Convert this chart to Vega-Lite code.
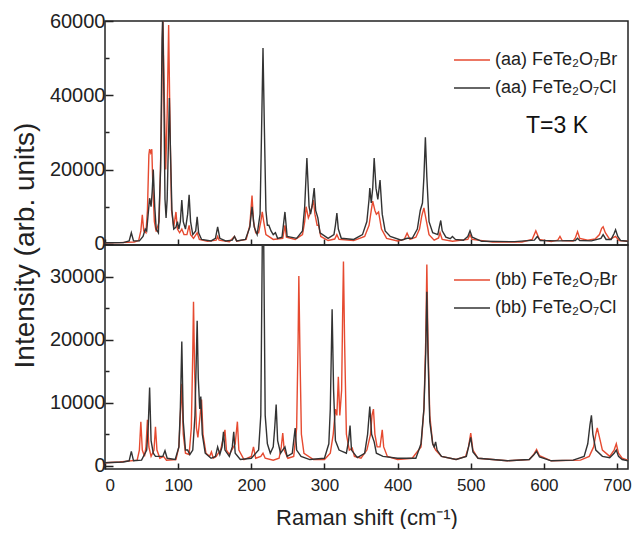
{
  "$schema": "https://vega.github.io/schema/vega-lite/v6.json",
  "padding": {"left": 10, "top": 10, "right": 0, "bottom": 0},
  "spacing": 0,
  "bounds": "flush",
  "config": {
    "font": "Liberation Sans",
    "view": {"stroke": "#222222", "strokeWidth": 1.5},
    "axis": {"grid": false, "domain": false, "tickColor": "#222222", "tickWidth": 1.5, "labelColor": "#222222", "titleColor": "#222222", "titleFontWeight": "normal", "labelFont": "Liberation Sans", "titleFont": "Liberation Sans"},
    "legend": {"labelFont": "Liberation Sans"}
  },
  "datasets": {
    "top": [
      {"s":"Br","x":0,"y":300},{"s":"Br","x":20,"y":350},{"s":"Br","x":40,"y":500},{"s":"Br","x":46,"y":900},{"s":"Br","x":49,"y":3500},{"s":"Br","x":51,"y":7800},{"s":"Br","x":53,"y":3500},{"s":"Br","x":56,"y":3000},{"s":"Br","x":58,"y":9000},{"s":"Br","x":60,"y":24000},{"s":"Br","x":61,"y":25500},{"s":"Br","x":62.5,"y":24500},{"s":"Br","x":64,"y":25500},{"s":"Br","x":65.5,"y":15000},{"s":"Br","x":67.5,"y":6000},{"s":"Br","x":70,"y":3300},{"s":"Br","x":74,"y":6000},{"s":"Br","x":77,"y":30000},{"s":"Br","x":79,"y":62000},{"s":"Br","x":81,"y":40000},{"s":"Br","x":83,"y":20000},{"s":"Br","x":85,"y":35000},{"s":"Br","x":87,"y":58900},{"s":"Br","x":89,"y":30000},{"s":"Br","x":91,"y":9000},{"s":"Br","x":94,"y":4500},{"s":"Br","x":97,"y":8600},{"s":"Br","x":99,"y":4000},{"s":"Br","x":102,"y":3000},{"s":"Br","x":105,"y":4000},{"s":"Br","x":108,"y":2500},{"s":"Br","x":112,"y":2500},{"s":"Br","x":115,"y":5000},{"s":"Br","x":117,"y":2500},{"s":"Br","x":121,"y":1500},{"s":"Br","x":126,"y":3000},{"s":"Br","x":129,"y":1200},{"s":"Br","x":140,"y":700},{"s":"Br","x":152,"y":1000},{"s":"Br","x":154,"y":2000},{"s":"Br","x":156,"y":1000},{"s":"Br","x":170,"y":600},{"s":"Br","x":177,"y":2000},{"s":"Br","x":180,"y":700},{"s":"Br","x":193,"y":1200},{"s":"Br","x":198,"y":5000},{"s":"Br","x":201,"y":13000},{"s":"Br","x":203,"y":6000},{"s":"Br","x":206,"y":3000},{"s":"Br","x":210,"y":3000},{"s":"Br","x":213,"y":6000},{"s":"Br","x":215,"y":8600},{"s":"Br","x":217,"y":6000},{"s":"Br","x":220,"y":2500},{"s":"Br","x":230,"y":1200},{"s":"Br","x":243,"y":1500},{"s":"Br","x":246,"y":5000},{"s":"Br","x":248,"y":1800},{"s":"Br","x":260,"y":1200},{"s":"Br","x":270,"y":2500},{"s":"Br","x":273,"y":6000},{"s":"Br","x":275,"y":10000},{"s":"Br","x":278,"y":7000},{"s":"Br","x":280,"y":8000},{"s":"Br","x":283,"y":10000},{"s":"Br","x":285,"y":11800},{"s":"Br","x":287,"y":8000},{"s":"Br","x":290,"y":5000},{"s":"Br","x":292,"y":5000},{"s":"Br","x":295,"y":2000},{"s":"Br","x":305,"y":900},{"s":"Br","x":314,"y":1300},{"s":"Br","x":317,"y":2500},{"s":"Br","x":320,"y":1200},{"s":"Br","x":340,"y":900},{"s":"Br","x":355,"y":2000},{"s":"Br","x":361,"y":5000},{"s":"Br","x":364,"y":9000},{"s":"Br","x":366,"y":11500},{"s":"Br","x":369,"y":9000},{"s":"Br","x":371,"y":8000},{"s":"Br","x":374,"y":8600},{"s":"Br","x":378,"y":4000},{"s":"Br","x":385,"y":1500},{"s":"Br","x":400,"y":800},{"s":"Br","x":409,"y":1200},{"s":"Br","x":413,"y":2900},{"s":"Br","x":417,"y":1200},{"s":"Br","x":425,"y":1800},{"s":"Br","x":430,"y":4000},{"s":"Br","x":433,"y":7500},{"s":"Br","x":436,"y":9700},{"s":"Br","x":439,"y":6500},{"s":"Br","x":443,"y":2500},{"s":"Br","x":450,"y":1000},{"s":"Br","x":456,"y":1600},{"s":"Br","x":458,"y":3000},{"s":"Br","x":461,"y":1200},{"s":"Br","x":475,"y":700},{"s":"Br","x":496,"y":1200},{"s":"Br","x":499,"y":2500},{"s":"Br","x":502,"y":1200},{"s":"Br","x":530,"y":500},{"s":"Br","x":570,"y":500},{"s":"Br","x":584,"y":1200},{"s":"Br","x":589,"y":3500},{"s":"Br","x":594,"y":1200},{"s":"Br","x":610,"y":600},{"s":"Br","x":619,"y":1000},{"s":"Br","x":622,"y":2000},{"s":"Br","x":625,"y":900},{"s":"Br","x":640,"y":800},{"s":"Br","x":643,"y":1600},{"s":"Br","x":646,"y":3300},{"s":"Br","x":649,"y":1500},{"s":"Br","x":660,"y":1000},{"s":"Br","x":670,"y":1300},{"s":"Br","x":676,"y":2500},{"s":"Br","x":679,"y":4200},{"s":"Br","x":681,"y":4600},{"s":"Br","x":684,"y":3000},{"s":"Br","x":690,"y":1200},{"s":"Br","x":698,"y":2000},{"s":"Br","x":703,"y":900},{"s":"Br","x":715,"y":700},
      {"s":"Cl","x":0,"y":300},{"s":"Cl","x":25,"y":350},{"s":"Cl","x":33,"y":800},{"s":"Cl","x":36,"y":3000},{"s":"Cl","x":39,"y":800},{"s":"Cl","x":47,"y":800},{"s":"Cl","x":52,"y":2000},{"s":"Cl","x":55,"y":4000},{"s":"Cl","x":57,"y":3500},{"s":"Cl","x":59,"y":8000},{"s":"Cl","x":61,"y":12300},{"s":"Cl","x":63,"y":10000},{"s":"Cl","x":64.5,"y":14000},{"s":"Cl","x":66,"y":20000},{"s":"Cl","x":68,"y":10000},{"s":"Cl","x":70,"y":4000},{"s":"Cl","x":73,"y":3000},{"s":"Cl","x":76,"y":20000},{"s":"Cl","x":78,"y":55000},{"s":"Cl","x":79,"y":62000},{"s":"Cl","x":80.5,"y":40000},{"s":"Cl","x":82,"y":12000},{"s":"Cl","x":83.5,"y":7000},{"s":"Cl","x":85,"y":12000},{"s":"Cl","x":87,"y":30000},{"s":"Cl","x":88,"y":39300},{"s":"Cl","x":89.5,"y":25000},{"s":"Cl","x":91.5,"y":9000},{"s":"Cl","x":94,"y":4000},{"s":"Cl","x":97,"y":4500},{"s":"Cl","x":99,"y":6000},{"s":"Cl","x":101,"y":4000},{"s":"Cl","x":103,"y":6000},{"s":"Cl","x":105,"y":11800},{"s":"Cl","x":107,"y":6000},{"s":"Cl","x":110,"y":4000},{"s":"Cl","x":113,"y":8000},{"s":"Cl","x":115,"y":13200},{"s":"Cl","x":117,"y":6000},{"s":"Cl","x":120,"y":2500},{"s":"Cl","x":124,"y":3500},{"s":"Cl","x":126,"y":7300},{"s":"Cl","x":128,"y":3000},{"s":"Cl","x":132,"y":1200},{"s":"Cl","x":145,"y":800},{"s":"Cl","x":151,"y":1500},{"s":"Cl","x":154,"y":4600},{"s":"Cl","x":157,"y":1500},{"s":"Cl","x":165,"y":800},{"s":"Cl","x":174,"y":1000},{"s":"Cl","x":177,"y":2000},{"s":"Cl","x":180,"y":800},{"s":"Cl","x":192,"y":1200},{"s":"Cl","x":198,"y":4500},{"s":"Cl","x":201,"y":10000},{"s":"Cl","x":204,"y":4500},{"s":"Cl","x":208,"y":2500},{"s":"Cl","x":212,"y":8000},{"s":"Cl","x":214,"y":30000},{"s":"Cl","x":216,"y":52700},{"s":"Cl","x":218,"y":30000},{"s":"Cl","x":220,"y":9000},{"s":"Cl","x":222,"y":5000},{"s":"Cl","x":224,"y":5000},{"s":"Cl","x":227,"y":3500},{"s":"Cl","x":230,"y":2500},{"s":"Cl","x":233,"y":3000},{"s":"Cl","x":236,"y":1500},{"s":"Cl","x":242,"y":1800},{"s":"Cl","x":246,"y":8600},{"s":"Cl","x":249,"y":2000},{"s":"Cl","x":262,"y":1500},{"s":"Cl","x":270,"y":3500},{"s":"Cl","x":273,"y":10000},{"s":"Cl","x":276,"y":23100},{"s":"Cl","x":279,"y":10000},{"s":"Cl","x":281,"y":8000},{"s":"Cl","x":283,"y":10000},{"s":"Cl","x":286,"y":15000},{"s":"Cl","x":288,"y":9000},{"s":"Cl","x":291,"y":7000},{"s":"Cl","x":294,"y":3000},{"s":"Cl","x":305,"y":1500},{"s":"Cl","x":313,"y":2500},{"s":"Cl","x":315,"y":5000},{"s":"Cl","x":317,"y":8300},{"s":"Cl","x":319,"y":4000},{"s":"Cl","x":323,"y":1500},{"s":"Cl","x":340,"y":1200},{"s":"Cl","x":352,"y":2500},{"s":"Cl","x":358,"y":6000},{"s":"Cl","x":361,"y":12000},{"s":"Cl","x":362,"y":15000},{"s":"Cl","x":364,"y":11000},{"s":"Cl","x":366,"y":15000},{"s":"Cl","x":368,"y":23100},{"s":"Cl","x":370.5,"y":15000},{"s":"Cl","x":373,"y":12000},{"s":"Cl","x":376,"y":17200},{"s":"Cl","x":379,"y":8000},{"s":"Cl","x":383,"y":3500},{"s":"Cl","x":390,"y":2000},{"s":"Cl","x":405,"y":1000},{"s":"Cl","x":413,"y":1500},{"s":"Cl","x":420,"y":1500},{"s":"Cl","x":427,"y":4000},{"s":"Cl","x":431,"y":9000},{"s":"Cl","x":434,"y":11000},{"s":"Cl","x":436,"y":18000},{"s":"Cl","x":438,"y":28700},{"s":"Cl","x":440,"y":18000},{"s":"Cl","x":443,"y":6000},{"s":"Cl","x":448,"y":3000},{"s":"Cl","x":455,"y":2500},{"s":"Cl","x":457,"y":4500},{"s":"Cl","x":459,"y":6300},{"s":"Cl","x":461,"y":3500},{"s":"Cl","x":466,"y":1800},{"s":"Cl","x":472,"y":1400},{"s":"Cl","x":475,"y":2000},{"s":"Cl","x":479,"y":1200},{"s":"Cl","x":490,"y":1000},{"s":"Cl","x":496,"y":2000},{"s":"Cl","x":499,"y":3500},{"s":"Cl","x":502,"y":1800},{"s":"Cl","x":515,"y":700},{"s":"Cl","x":560,"y":600},{"s":"Cl","x":587,"y":1000},{"s":"Cl","x":591,"y":2000},{"s":"Cl","x":595,"y":900},{"s":"Cl","x":620,"y":800},{"s":"Cl","x":643,"y":900},{"s":"Cl","x":646,"y":1500},{"s":"Cl","x":649,"y":900},{"s":"Cl","x":665,"y":800},{"s":"Cl","x":678,"y":1500},{"s":"Cl","x":681,"y":2500},{"s":"Cl","x":685,"y":1200},{"s":"Cl","x":692,"y":1200},{"s":"Cl","x":696,"y":2800},{"s":"Cl","x":698,"y":3800},{"s":"Cl","x":701,"y":2000},{"s":"Cl","x":705,"y":900},{"s":"Cl","x":715,"y":700}
    ],
    "bottom": [
      {"s":"Br","x":0,"y":500},{"s":"Br","x":20,"y":600},{"s":"Br","x":44,"y":900},{"s":"Br","x":47,"y":2500},{"s":"Br","x":49,"y":7000},{"s":"Br","x":51,"y":2500},{"s":"Br","x":54,"y":1500},{"s":"Br","x":56,"y":3000},{"s":"Br","x":58,"y":7300},{"s":"Br","x":60,"y":3000},{"s":"Br","x":63,"y":1500},{"s":"Br","x":67,"y":2500},{"s":"Br","x":69,"y":6200},{"s":"Br","x":71,"y":2500},{"s":"Br","x":75,"y":1200},{"s":"Br","x":80,"y":1500},{"s":"Br","x":84,"y":900},{"s":"Br","x":97,"y":1000},{"s":"Br","x":101,"y":3000},{"s":"Br","x":103,"y":8000},{"s":"Br","x":105,"y":13000},{"s":"Br","x":107,"y":5000},{"s":"Br","x":110,"y":2000},{"s":"Br","x":115,"y":1800},{"s":"Br","x":118,"y":6000},{"s":"Br","x":120,"y":18000},{"s":"Br","x":121,"y":26000},{"s":"Br","x":122.5,"y":15000},{"s":"Br","x":125,"y":6000},{"s":"Br","x":127,"y":4500},{"s":"Br","x":130,"y":8000},{"s":"Br","x":132,"y":10500},{"s":"Br","x":134,"y":5000},{"s":"Br","x":138,"y":2000},{"s":"Br","x":143,"y":1500},{"s":"Br","x":145.5,"y":2200},{"s":"Br","x":148,"y":1200},{"s":"Br","x":152,"y":1500},{"s":"Br","x":155,"y":2000},{"s":"Br","x":158,"y":2500},{"s":"Br","x":162,"y":4500},{"s":"Br","x":164,"y":5700},{"s":"Br","x":166,"y":2500},{"s":"Br","x":170,"y":1800},{"s":"Br","x":178,"y":3500},{"s":"Br","x":181,"y":7000},{"s":"Br","x":183,"y":2500},{"s":"Br","x":190,"y":1000},{"s":"Br","x":200,"y":1500},{"s":"Br","x":203,"y":3000},{"s":"Br","x":206,"y":1200},{"s":"Br","x":213,"y":1500},{"s":"Br","x":216,"y":2000},{"s":"Br","x":219,"y":1200},{"s":"Br","x":230,"y":900},{"s":"Br","x":238,"y":1200},{"s":"Br","x":241,"y":3000},{"s":"Br","x":243,"y":5200},{"s":"Br","x":245,"y":2500},{"s":"Br","x":250,"y":1200},{"s":"Br","x":258,"y":1500},{"s":"Br","x":262,"y":6000},{"s":"Br","x":264,"y":20000},{"s":"Br","x":265,"y":30100},{"s":"Br","x":266.5,"y":18000},{"s":"Br","x":268.5,"y":5000},{"s":"Br","x":272,"y":2000},{"s":"Br","x":285,"y":1000},{"s":"Br","x":300,"y":1000},{"s":"Br","x":308,"y":2000},{"s":"Br","x":312,"y":5000},{"s":"Br","x":315,"y":9000},{"s":"Br","x":317,"y":8000},{"s":"Br","x":319,"y":14100},{"s":"Br","x":321,"y":8000},{"s":"Br","x":323.5,"y":12000},{"s":"Br","x":325,"y":25000},{"s":"Br","x":326,"y":32400},{"s":"Br","x":327.5,"y":20000},{"s":"Br","x":330,"y":5000},{"s":"Br","x":334,"y":2500},{"s":"Br","x":338,"y":2800},{"s":"Br","x":341,"y":1500},{"s":"Br","x":350,"y":1200},{"s":"Br","x":358,"y":2500},{"s":"Br","x":363,"y":5000},{"s":"Br","x":365,"y":8000},{"s":"Br","x":367,"y":9000},{"s":"Br","x":369,"y":5000},{"s":"Br","x":372,"y":3000},{"s":"Br","x":376,"y":3000},{"s":"Br","x":379,"y":5700},{"s":"Br","x":381,"y":3000},{"s":"Br","x":386,"y":1500},{"s":"Br","x":400,"y":1000},{"s":"Br","x":420,"y":1200},{"s":"Br","x":432,"y":3000},{"s":"Br","x":436,"y":9000},{"s":"Br","x":438.5,"y":20000},{"s":"Br","x":440,"y":31900},{"s":"Br","x":441.5,"y":20000},{"s":"Br","x":444,"y":8000},{"s":"Br","x":448,"y":3500},{"s":"Br","x":452,"y":2500},{"s":"Br","x":460,"y":1500},{"s":"Br","x":480,"y":1000},{"s":"Br","x":493,"y":1500},{"s":"Br","x":497,"y":3000},{"s":"Br","x":500,"y":5200},{"s":"Br","x":503,"y":2500},{"s":"Br","x":510,"y":1200},{"s":"Br","x":550,"y":800},{"s":"Br","x":580,"y":1000},{"s":"Br","x":586,"y":1800},{"s":"Br","x":590,"y":2600},{"s":"Br","x":594,"y":1600},{"s":"Br","x":610,"y":800},{"s":"Br","x":650,"y":900},{"s":"Br","x":662,"y":1500},{"s":"Br","x":668,"y":3000},{"s":"Br","x":671,"y":5000},{"s":"Br","x":673,"y":6000},{"s":"Br","x":676,"y":4500},{"s":"Br","x":680,"y":2500},{"s":"Br","x":690,"y":1500},{"s":"Br","x":696,"y":2500},{"s":"Br","x":699,"y":3500},{"s":"Br","x":702,"y":2000},{"s":"Br","x":707,"y":1200},{"s":"Br","x":715,"y":900},
      {"s":"Cl","x":0,"y":500},{"s":"Cl","x":25,"y":600},{"s":"Cl","x":33,"y":800},{"s":"Cl","x":36,"y":2300},{"s":"Cl","x":39,"y":800},{"s":"Cl","x":50,"y":900},{"s":"Cl","x":57,"y":2500},{"s":"Cl","x":59,"y":6000},{"s":"Cl","x":61,"y":12400},{"s":"Cl","x":63,"y":4000},{"s":"Cl","x":66,"y":2000},{"s":"Cl","x":69,"y":1500},{"s":"Cl","x":79,"y":1500},{"s":"Cl","x":82,"y":2400},{"s":"Cl","x":85,"y":1200},{"s":"Cl","x":96,"y":1000},{"s":"Cl","x":101,"y":3000},{"s":"Cl","x":103,"y":9000},{"s":"Cl","x":105,"y":19700},{"s":"Cl","x":107,"y":7000},{"s":"Cl","x":110,"y":2500},{"s":"Cl","x":113,"y":2500},{"s":"Cl","x":116,"y":1800},{"s":"Cl","x":120,"y":2500},{"s":"Cl","x":123,"y":8000},{"s":"Cl","x":125,"y":18000},{"s":"Cl","x":126,"y":23000},{"s":"Cl","x":127.5,"y":14000},{"s":"Cl","x":129.5,"y":9000},{"s":"Cl","x":131,"y":11000},{"s":"Cl","x":133,"y":5000},{"s":"Cl","x":137,"y":2000},{"s":"Cl","x":145,"y":1200},{"s":"Cl","x":151,"y":1500},{"s":"Cl","x":154,"y":3000},{"s":"Cl","x":157,"y":1800},{"s":"Cl","x":160,"y":3000},{"s":"Cl","x":162,"y":5400},{"s":"Cl","x":164,"y":2500},{"s":"Cl","x":170,"y":1500},{"s":"Cl","x":174,"y":3000},{"s":"Cl","x":176,"y":5400},{"s":"Cl","x":178,"y":2000},{"s":"Cl","x":185,"y":1000},{"s":"Cl","x":200,"y":1200},{"s":"Cl","x":210,"y":2500},{"s":"Cl","x":213,"y":8000},{"s":"Cl","x":215,"y":35000},{"s":"Cl","x":216,"y":45000},{"s":"Cl","x":217,"y":35000},{"s":"Cl","x":219,"y":8000},{"s":"Cl","x":222,"y":3500},{"s":"Cl","x":226,"y":2000},{"s":"Cl","x":230,"y":3000},{"s":"Cl","x":232,"y":6000},{"s":"Cl","x":234,"y":9700},{"s":"Cl","x":236,"y":4000},{"s":"Cl","x":240,"y":2000},{"s":"Cl","x":246,"y":3000},{"s":"Cl","x":249,"y":1500},{"s":"Cl","x":256,"y":2000},{"s":"Cl","x":258,"y":4000},{"s":"Cl","x":260,"y":6000},{"s":"Cl","x":262,"y":2500},{"s":"Cl","x":268,"y":1500},{"s":"Cl","x":280,"y":1000},{"s":"Cl","x":300,"y":1200},{"s":"Cl","x":306,"y":3500},{"s":"Cl","x":308,"y":9000},{"s":"Cl","x":310.5,"y":24800},{"s":"Cl","x":312.5,"y":12000},{"s":"Cl","x":315,"y":4000},{"s":"Cl","x":320,"y":2500},{"s":"Cl","x":330,"y":2000},{"s":"Cl","x":333,"y":4000},{"s":"Cl","x":335,"y":6400},{"s":"Cl","x":337,"y":2500},{"s":"Cl","x":345,"y":1300},{"s":"Cl","x":355,"y":2000},{"s":"Cl","x":359,"y":5000},{"s":"Cl","x":362,"y":9400},{"s":"Cl","x":364.5,"y":5000},{"s":"Cl","x":368,"y":3800},{"s":"Cl","x":371,"y":2000},{"s":"Cl","x":380,"y":1500},{"s":"Cl","x":400,"y":1200},{"s":"Cl","x":425,"y":1200},{"s":"Cl","x":432,"y":3500},{"s":"Cl","x":436,"y":9000},{"s":"Cl","x":438.5,"y":18000},{"s":"Cl","x":440,"y":27600},{"s":"Cl","x":441.5,"y":18000},{"s":"Cl","x":444,"y":7000},{"s":"Cl","x":448,"y":3500},{"s":"Cl","x":450,"y":3000},{"s":"Cl","x":452,"y":3800},{"s":"Cl","x":454,"y":2500},{"s":"Cl","x":460,"y":1500},{"s":"Cl","x":480,"y":1000},{"s":"Cl","x":494,"y":1500},{"s":"Cl","x":497,"y":3000},{"s":"Cl","x":500,"y":4500},{"s":"Cl","x":503,"y":2200},{"s":"Cl","x":510,"y":1200},{"s":"Cl","x":550,"y":800},{"s":"Cl","x":580,"y":1000},{"s":"Cl","x":586,"y":1700},{"s":"Cl","x":590,"y":2300},{"s":"Cl","x":594,"y":1400},{"s":"Cl","x":610,"y":800},{"s":"Cl","x":640,"y":900},{"s":"Cl","x":655,"y":1500},{"s":"Cl","x":660,"y":3500},{"s":"Cl","x":663,"y":6500},{"s":"Cl","x":665,"y":8000},{"s":"Cl","x":667,"y":5000},{"s":"Cl","x":671,"y":2500},{"s":"Cl","x":680,"y":1500},{"s":"Cl","x":690,"y":1300},{"s":"Cl","x":696,"y":2000},{"s":"Cl","x":699,"y":2500},{"s":"Cl","x":702,"y":1500},{"s":"Cl","x":707,"y":1000},{"s":"Cl","x":715,"y":800}
    ],
    "note": [{"x": 618, "y": 31750, "t": "T=3 K"}]
  },
  "vconcat": [
    {
      "width": 523,
      "height": 224,
      "resolve": {"axis": {"y": "independent"}},
      "layer": [
        {
          "data": {"name": "top"},
          "transform": [{"filter": "datum.s === 'Br'"}],
          "mark": {"type": "line", "strokeWidth": 1.4, "clip": true},
          "encoding": {
            "x": {"field": "x", "type": "quantitative", "scale": {"domain": [0, 715], "nice": false}, "axis": {"labels": false, "title": null, "values": [0,50,100,150,200,250,300,350,400,450,500,550,600,650,700], "tickSize": -6}},
            "y": {"field": "y", "type": "quantitative", "scale": {"domain": [-300, 60000], "nice": false, "zero": false}, "axis": {"values": [0, 20000, 40000, 60000], "format": "d", "tickSize": -8, "labelFontSize": 20, "labelPadding": 8, "title": "Intensity (arb. units)", "titleFontSize": 28, "titleY": 224, "titleX": -66}},
            "color": {"field": "s", "type": "nominal", "scale": {"domain": ["Br", "Cl"], "range": ["#e64a30", "#333333"]}, "legend": {"orient": "none", "legendX": 348, "legendY": 20, "title": null, "symbolType": "stroke", "symbolSize": 1300, "symbolStrokeWidth": 1.6, "labelFontSize": 18, "labelColor": "#222222", "labelExpr": "'(aa) FeTe₂O₇' + datum.label", "rowPadding": -4, "labelOffset": 4}}
          }
        },
        {
          "data": {"name": "top"},
          "transform": [{"filter": "datum.s === 'Cl'"}],
          "mark": {"type": "line", "strokeWidth": 1.4, "clip": true},
          "encoding": {
            "x": {"field": "x", "type": "quantitative"},
            "y": {"field": "y", "type": "quantitative", "axis": {"orient": "left", "values": [10000, 30000, 50000], "labels": false, "title": null, "tickSize": -4}},
            "color": {"field": "s", "type": "nominal"}
          }
        },
        {
          "data": {"name": "note"},
          "mark": {"type": "text", "fontSize": 23, "color": "#111111", "align": "center", "baseline": "middle"},
          "encoding": {
            "x": {"field": "x", "type": "quantitative"},
            "y": {"field": "y", "type": "quantitative", "axis": null},
            "text": {"field": "t"}
          }
        }
      ]
    },
    {
      "width": 523,
      "height": 224,
      "data": {"name": "bottom"},
      "resolve": {"axis": {"y": "independent"}},
      "layer": [
        {
          "transform": [{"filter": "datum.s === 'Br'"}],
          "mark": {"type": "line", "strokeWidth": 1.4, "clip": true},
          "encoding": {
            "x": {"field": "x", "type": "quantitative", "scale": {"domain": [0, 715], "nice": false}, "axis": {"values": [0,50,100,150,200,250,300,350,400,450,500,550,600,650,700], "labelExpr": "datum.value % 100 === 0 ? datum.label : ''", "tickSize": -6, "labelFontSize": 17, "labelPadding": 14, "title": "Raman shift (cm⁻¹)", "titleFontSize": 22, "titlePadding": 14}},
            "y": {"field": "y", "type": "quantitative", "scale": {"domain": [-500, 35000], "nice": false, "zero": false}, "axis": {"values": [0, 10000, 20000, 30000], "format": "d", "tickSize": -8, "labelFontSize": 20, "labelPadding": 8, "title": null}},
            "color": {"field": "s", "type": "nominal", "scale": {"domain": ["Br", "Cl"], "range": ["#e64a30", "#333333"]}, "legend": {"orient": "none", "legendX": 348, "legendY": 16, "title": null, "symbolType": "stroke", "symbolSize": 1300, "symbolStrokeWidth": 1.6, "labelFontSize": 18, "labelColor": "#222222", "labelExpr": "'(bb) FeTe₂O₇' + datum.label", "rowPadding": 0, "labelOffset": 4}}
          }
        },
        {
          "transform": [{"filter": "datum.s === 'Cl'"}],
          "mark": {"type": "line", "strokeWidth": 1.4, "clip": true},
          "encoding": {
            "x": {"field": "x", "type": "quantitative"},
            "y": {"field": "y", "type": "quantitative", "axis": {"orient": "left", "values": [5000, 15000, 25000], "labels": false, "title": null, "tickSize": -4}},
            "color": {"field": "s", "type": "nominal"}
          }
        }
      ]
    }
  ],
  "resolve": {"scale": {"color": "independent"}}
}
